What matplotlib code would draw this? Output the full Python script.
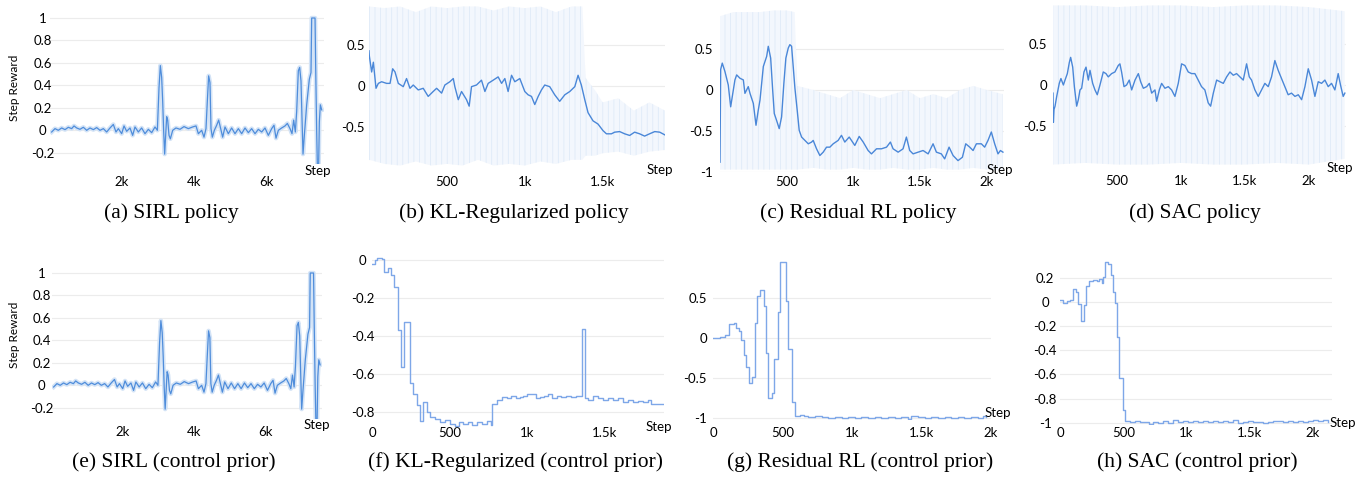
import matplotlib
matplotlib.use('Agg')
import matplotlib.pyplot as plt

plt.rcParams['font.family'] = ['Lato', 'DejaVu Sans']
plt.rcParams['axes.unicode_minus'] = False
plt.rcParams['hatch.linewidth'] = 0.6

# ---------------- data ----------------

# (a) / (e) SIRL step reward, same curve in both rows
sirl_x = [46, 139, 231, 324, 417, 509, 602, 667, 741, 833,
          926, 1019, 1111, 1204, 1296, 1389, 1482, 1574, 1667, 1759,
          1833, 1898, 1991, 2056, 2130, 2222, 2296, 2361, 2454, 2546,
          2639, 2732, 2824, 2917, 2982, 3028, 3065, 3102, 3130, 3158,
          3185, 3213, 3241, 3269, 3306, 3343, 3408, 3500, 3611, 3722,
          3843, 3963, 4056, 4121, 4213, 4278, 4333, 4370, 4407, 4444,
          4472, 4509, 4565, 4630, 4685, 4741, 4796, 4861, 4954, 5046,
          5139, 5232, 5324, 5417, 5510, 5602, 5695, 5787, 5880, 5972,
          6065, 6158, 6222, 6278, 6343, 6435, 6528, 6593, 6667, 6722,
          6769, 6815, 6852, 6898, 6935, 6972, 7000, 7028, 7065, 7130,
          7204, 7250, 7269, 7362, 7380, 7408, 7426, 7463, 7482, 7510,
          7547]
sirl_y = [-0.015, 0.015, 0, 0.021, 0.006, 0.027, 0.015, 0.039, 0.021, 0.009,
          0.027, 0, 0.021, 0.006, 0.024, 0, 0.015, -0.015, 0.021, 0.052,
          -0.015, 0.015, -0.03, 0.039, -0.009, 0.021, -0.045, 0.03, -0.015, 0.021,
          -0.03, 0.009, -0.021, 0.03, 0, 0.379, 0.576, 0.47, 0.258, -0.015,
          -0.212, -0.045, 0.121, 0.091, -0.045, -0.076, 0, 0.021, 0.009, 0.033,
          0.015, 0.03, 0.039, -0.03, 0, -0.061, 0.015, 0.258, 0.485, 0.424,
          0.015, -0.061, 0, 0.045, 0.091, 0.015, -0.061, 0.03, -0.03, 0.021,
          -0.03, 0.015, -0.03, 0.021, -0.021, 0.015, -0.03, 0.009, -0.015, 0.021,
          -0.045, 0.015, 0.045, -0.07, 0, 0.021, 0.039, 0.061, 0.015, -0.03,
          0.091, -0.015, 0.167, 0.53, 0.56, 0.44, 0.106, -0.212, -0.045, 0.227,
          0.455, 0.515, 1.0, 1.0, 0.56, -0.015, -0.303, -0.303, 0.076, 0.227,
          0.182]

# (b) KL-Regularized policy (smoothed)
kl_x = [0, 2, 17, 28, 45, 60, 81, 113, 135, 152,
        167, 188, 220, 241, 263, 284, 316, 348, 380, 412,
        434, 466, 487, 519, 541, 551, 573, 594, 626, 643,
        658, 690, 722, 744, 765, 797, 829, 851, 872, 893,
        915, 936, 968, 1000, 1021, 1043, 1064, 1086, 1107, 1128,
        1160, 1192, 1224, 1257, 1289, 1321, 1342, 1363, 1385, 1406,
        1438, 1470, 1502, 1524, 1556, 1577, 1609, 1641, 1673, 1705,
        1737, 1769, 1801, 1834, 1866, 1898]
kl_y = [0.429, 0.369, 0.171, 0.29, -0.028, 0.032, 0.052, 0.032, 0.032, 0.21,
        0.171, 0.032, -0.008, 0.091, -0.028, 0.012, -0.048, -0.028, -0.127, -0.067,
        -0.028, -0.087, 0.012, 0.052, 0.091, -0.008, -0.167, -0.067, -0.167, -0.246,
        -0.008, 0.012, 0.071, -0.067, 0.032, 0.071, 0.111, 0.032, 0.091, -0.067,
        0.131, 0.052, 0.091, -0.067, -0.107, -0.127, -0.226, -0.127, -0.048, 0.012,
        -0.008, -0.107, -0.187, -0.107, -0.067, -0.008, 0.131, 0.012, -0.167, -0.325,
        -0.425, -0.464, -0.544, -0.583, -0.583, -0.563, -0.556, -0.583, -0.603, -0.563,
        -0.583, -0.611, -0.583, -0.556, -0.563, -0.595]
# raw reward envelope (light band)
kl_band_x = [0, 100, 200, 300, 400, 500, 600, 700, 800, 900, 1000,
             1100, 1200, 1300, 1370, 1390, 1450, 1500, 1600, 1700, 1800, 1900]
kl_band_hi = [0.97, 0.95, 0.97, 0.9, 0.97, 0.95, 0.97, 0.97, 0.92, 0.97, 0.95,
              0.97, 0.9, 0.97, 0.97, 0.1, -0.05, -0.2, -0.15, -0.3, -0.2, -0.3]
kl_band_lo = [-0.9, -0.95, -0.97, -0.92, -0.97, -0.95, -0.97, -0.9, -0.97, -0.95, -0.97,
              -0.92, -0.95, -0.9, -0.9, -0.85, -0.85, -0.82, -0.8, -0.85, -0.8, -0.78]

# (c) Residual RL policy
res_x = [0, 5, 17, 37, 62, 80, 100, 112, 125, 150,
         175, 187, 212, 225, 250, 270, 287, 300, 325, 350,
         362, 380, 395, 407, 424, 444, 462, 479, 494, 512,
         524, 537, 549, 562, 579, 594, 612, 637, 662, 687,
         699, 724, 749, 774, 799, 824, 849, 886, 911, 936,
         969, 986, 1011, 1044, 1074, 1111, 1136, 1174, 1211, 1249,
         1278, 1298, 1336, 1373, 1398, 1423, 1448, 1486, 1523, 1561,
         1598, 1623, 1660, 1685, 1718, 1748, 1785, 1818, 1843, 1873,
         1898, 1923, 1960, 1985, 2010, 2035, 2060, 2085, 2103, 2122]
res_y = [-0.88, 0.25, 0.328, 0.225, 0.061, -0.205, 0, 0.123, 0.184, 0.143,
         0.123, -0.041, 0.041, -0.041, -0.164, -0.43, -0.246, -0.123, 0.287, 0.41,
         0.533, 0.389, 0, -0.287, -0.369, -0.471, -0.328, 0.082, 0.389, 0.512,
         0.553, 0.533, 0.287, 0.02, -0.246, -0.492, -0.574, -0.615, -0.656, -0.635,
         -0.615, -0.717, -0.799, -0.758, -0.697, -0.697, -0.656, -0.615, -0.553, -0.635,
         -0.574, -0.615, -0.676, -0.566, -0.635, -0.738, -0.779, -0.717, -0.717, -0.697,
         -0.635, -0.717, -0.758, -0.717, -0.574, -0.738, -0.779, -0.758, -0.738, -0.779,
         -0.656, -0.758, -0.779, -0.84, -0.697, -0.799, -0.861, -0.82, -0.656, -0.697,
         -0.738, -0.656, -0.656, -0.697, -0.615, -0.512, -0.656, -0.779, -0.738, -0.758]
res_band_x = [0, 100, 200, 300, 400, 500, 560, 580, 700, 800, 900, 1000,
              1100, 1200, 1300, 1400, 1500, 1600, 1700, 1800, 1900, 2000, 2120]
res_band_hi = [0.9, 0.95, 0.95, 0.95, 0.97, 0.97, 0.95, 0.05, 0.0, -0.05, -0.1, 0.0,
               -0.05, -0.1, -0.05, 0.0, -0.1, -0.05, -0.1, 0.0, 0.05, 0.0, -0.05]
res_band_lo = [-0.97, -0.97, -0.97, -0.97, -0.97, -0.97, -0.97, -0.97, -0.95, -0.97, -0.97, -0.95,
               -0.97, -0.97, -0.95, -0.97, -0.97, -0.95, -0.97, -0.97, -0.95, -0.97, -0.97]

# (d) SAC policy
sac_x = [0, 3, 8, 16, 29, 49, 62, 81, 94, 112,
         128, 138, 154, 167, 185, 198, 211, 224, 242, 258,
         276, 289, 310, 328, 346, 367, 393, 414, 432, 458,
         484, 510, 523, 536, 555, 575, 596, 615, 641, 667,
         685, 706, 732, 753, 771, 797, 810, 831, 849, 875,
         901, 927, 953, 979, 1005, 1031, 1057, 1083, 1109, 1135,
         1161, 1187, 1213, 1232, 1253, 1279, 1305, 1331, 1357, 1383,
         1409, 1435, 1461, 1487, 1513, 1534, 1552, 1578, 1604, 1630,
         1656, 1682, 1708, 1734, 1760, 1786, 1812, 1838, 1864, 1891,
         1917, 1943, 1969, 1995, 2021, 2047, 2073, 2099, 2125, 2151,
         2177, 2203, 2229, 2247, 2268, 2281]
sac_y = [-0.099, -0.456, -0.298, -0.258, -0.139, 0.02, 0.079, 0, 0.06, 0.139,
         0.278, 0.337, 0.218, -0.02, -0.258, -0.179, -0.06, -0.04, 0.159, 0.218,
         0.06, 0.179, 0.02, -0.06, -0.119, 0, 0.159, 0.139, 0.099, 0.139,
         0.159, 0.238, 0.258, 0.159, -0.02, 0, 0.06, -0.06, 0.06, 0.139,
         0.04, -0.04, -0.02, 0.02, -0.099, -0.06, -0.198, -0.06, 0.02, -0.04,
         -0.02, -0.06, -0.139, 0.02, 0.258, 0.238, 0.159, 0.139, 0.139, 0.06,
         -0.02, -0.06, -0.218, -0.258, -0.099, 0.06, 0.04, 0.02, 0.099, 0.159,
         0.119, 0.139, 0.099, 0.06, 0.258, 0.099, 0.06, -0.06, -0.139, -0.06,
         0.02, -0.02, 0.099, 0.298, 0.179, 0.079, -0.02, -0.119, -0.099, -0.139,
         -0.119, -0.179, -0.02, 0.198, 0.06, -0.139, 0.04, 0.02, 0.06, -0.02,
         0.02, -0.06, 0.139, 0, -0.139, -0.099]
sac_band_x = [0, 250, 500, 750, 1000, 1250, 1500, 1750, 2000, 2280]
sac_band_hi = [0.97, 0.97, 0.95, 0.97, 0.97, 0.95, 0.97, 0.97, 0.95, 0.9]
sac_band_lo = [-0.97, -0.95, -0.97, -0.97, -0.95, -0.97, -0.97, -0.95, -0.97, -0.9]

# (f) KL-Regularized control prior
klp_x = [0, 19, 34, 62, 79, 105, 120, 144, 165, 184,
         208, 244, 266, 287, 309, 330, 352, 373, 405, 437,
         470, 502, 534, 562, 587, 620, 647, 673, 705, 738,
         763, 770, 802, 834, 866, 898, 926, 952, 973, 999,
         1027, 1059, 1081, 1106, 1134, 1156, 1188, 1220, 1252, 1284,
         1316, 1342, 1351, 1370, 1391, 1424, 1456, 1488, 1520, 1552,
         1584, 1617, 1649, 1681, 1713, 1745, 1777, 1799, 1831, 1874]
klp_y = [-0.021, 0, 0.009, 0.004, -0.062, -0.044, -0.079, -0.144, -0.369, -0.566,
         -0.325, -0.647, -0.703, -0.765, -0.847, -0.747, -0.8, -0.826, -0.835, -0.852,
         -0.844, -0.865, -0.875, -0.852, -0.865, -0.852, -0.87, -0.852, -0.861, -0.847,
         -0.87, -0.756, -0.735, -0.721, -0.724, -0.717, -0.729, -0.721, -0.714, -0.703,
         -0.708, -0.729, -0.721, -0.717, -0.707, -0.724, -0.717, -0.721, -0.717, -0.721,
         -0.717, -0.715, -0.366, -0.729, -0.735, -0.717, -0.724, -0.738, -0.726, -0.738,
         -0.729, -0.747, -0.735, -0.749, -0.742, -0.747, -0.738, -0.756, -0.756, -0.759]

# (g) Residual RL control prior
resp_x = [0, 53, 88, 112, 148, 165, 184, 203, 220, 237,
          256, 280, 299, 318, 339, 366, 382, 399, 423, 442,
          466, 483, 523, 543, 566, 590, 626, 657, 686, 734,
          782, 829, 877, 925, 973, 1021, 1068, 1116, 1164, 1212,
          1260, 1307, 1355, 1403, 1427, 1475, 1522, 1570, 1618, 1666,
          1714, 1762, 1809, 1857, 1905, 1941, 1965]
resp_y = [0, 0.013, 0.029, 0.179, 0.188, 0.125, 0.083, -0.029, -0.221, -0.363,
          -0.571, -0.488, 0.188, 0.521, 0.604, 0.404, -0.188, -0.75, -0.688, -0.271,
          0.321, 0.946, 0.458, -0.146, -0.804, -0.979, -0.967, -0.979, -0.988, -0.979,
          -0.988, -1.0, -0.988, -1.0, -0.988, -1.0, -0.988, -1.0, -0.988, -1.0,
          -0.992, -1.0, -0.988, -1.021, -0.979, -0.988, -1.0, -0.988, -1.0, -0.992,
          -1.0, -0.988, -1.0, -0.992, -1.0, -0.979, -0.992]

# (h) SAC control prior
sacp_x = [0, 21, 53, 79, 105, 126, 145, 166, 190, 205,
          232, 258, 290, 311, 329, 342, 355, 382, 400, 416,
          437, 453, 468, 495, 513, 553, 592, 632, 671, 705,
          737, 776, 816, 855, 895, 934, 974, 1013, 1053, 1092,
          1132, 1171, 1211, 1250, 1290, 1329, 1369, 1408, 1448, 1487,
          1527, 1566, 1606, 1645, 1684, 1724, 1763, 1803, 1842, 1882,
          1921, 1961, 2000, 2040, 2079, 2119]
sacp_y = [0.014, -0.008, 0.008, 0.014, 0.11, 0.082, -0.019, -0.157, -0.027, 0.137,
          0.173, 0.184, 0.173, 0.192, 0.157, 0.206, 0.33, 0.316, 0.228, 0.082,
          -0.008, -0.288, -0.632, -0.893, -0.989, -0.997, -0.989, -0.997, -0.992, -1.008,
          -0.995, -1.003, -0.989, -1.003, -0.975, -0.997, -0.989, -0.997, -0.984, -0.995,
          -0.986, -0.995, -0.984, -0.995, -0.986, -0.997, -0.981, -1.003, -0.995, -0.986,
          -0.997, -0.992, -1.0, -0.992, -0.986, -0.989, -0.997, -0.986, -0.995, -0.984,
          -0.997, -0.986, -0.981, -0.989, -0.981, -0.997]

# tick labels
sirl_xticks, sirl_xlabels = [2000, 4000, 6000], ['2k', '4k', '6k']
sirl_yticks = [-0.2, 0, 0.2, 0.4, 0.6, 0.8, 1]
sirl_ylabels = ['-0.2', '0', '0.2', '0.4', '0.6', '0.8', '1']
half_yticks, half_ylabels = [-0.5, 0, 0.5], ['-0.5', '0', '0.5']
one_yticks, one_ylabels = [-1, -0.5, 0, 0.5], ['-1', '-0.5', '0', '0.5']
kl_xticks, kl_xlabels = [500, 1000, 1500], ['500', '1k', '1.5k']
two_xticks, two_xlabels = [500, 1000, 1500, 2000], ['500', '1k', '1.5k', '2k']
klp_xticks, klp_xlabels = [0, 500, 1000, 1500], ['0', '500', '1k', '1.5k']
zero_xticks, zero_xlabels = [0, 500, 1000, 1500, 2000], ['0', '500', '1k', '1.5k', '2k']
klp_yticks = [-0.8, -0.6, -0.4, -0.2, 0]
klp_ylabels = ['-0.8', '-0.6', '-0.4', '-0.2', '0']
sacp_yticks = [-1, -0.8, -0.6, -0.4, -0.2, 0, 0.2]
sacp_ylabels = ['-1', '-0.8', '-0.6', '-0.4', '-0.2', '0', '0.2']

captions = ['(a) SIRL policy', '(b) KL-Regularized policy', '(c) Residual RL policy',
            '(d) SAC policy', '(e) SIRL (control prior)', '(f) KL-Regularized (control prior)',
            '(g) Residual RL (control prior)', '(h) SAC (control prior)']

# ---------------- figure ----------------
W, H = 1371, 479
fig = plt.figure(figsize=(W / 100, H / 100), dpi=100)

LINE = '#4a87d8'
LIGHT = '#7ea7e8'
BAND = '#f3f7fd'
STRIPE = '#dfeaf8'
GRID = '#ececec'
TICK_FS = 9.5


def make_ax(box, xlim, ylim, xt, xtl, yt, ytl, xpad, ypad, yha):
    l, t, r, b = box
    ax = fig.add_axes([l / W, 1 - b / H, (r - l) / W, (b - t) / H])
    ax.set_xlim(*xlim)
    ax.set_ylim(*ylim)
    for s in ax.spines.values():
        s.set_visible(False)
    ax.set_xticks(xt)
    ax.set_xticklabels(xtl, fontsize=TICK_FS)
    ax.set_yticks(yt)
    ax.set_yticklabels(ytl, fontsize=TICK_FS, ha=yha)
    ax.tick_params(axis='x', length=0, pad=xpad)
    ax.tick_params(axis='y', length=0, pad=ypad)
    for v in yt:
        ax.axhline(v, color=GRID, lw=0.8, zorder=0)
    return ax


def band(ax, x, lo, hi):
    ax.fill_between(x, lo, hi, facecolor=BAND, edgecolor=STRIPE, hatch='|||', lw=0, zorder=1)


def fig_text(x, y, s, **kw):
    fig.text(x / W, 1 - y / H, s, **kw)


# (a)
ax = make_ax((50, 12.4, 323.6, 164), (0, 7600), (-0.3, 1.05), sirl_xticks, sirl_xlabels,
             sirl_yticks, sirl_ylabels, 9, 5.3, 'center')
ax.plot(sirl_x, sirl_y, color='#d3e3f6', lw=3.2, solid_joinstyle='round')
ax.plot(sirl_x, sirl_y, color='#4f8ddb', lw=0.9)

# (b)
ax = make_ax((369, 4, 665, 168), (0, 1900), (-1, 1), kl_xticks, kl_xlabels,
             half_yticks, half_ylabels, 5.4, 3, 'right')
band(ax, kl_band_x, kl_band_lo, kl_band_hi)
ax.plot(kl_x, kl_y, color=LINE, lw=1.0, zorder=3)

# (c)
ax = make_ax((720, 8, 1004, 172), (0, 2130), (-1, 1), two_xticks, two_xlabels,
             one_yticks, one_ylabels, 3.2, 5, 'right')
band(ax, res_band_x, res_band_lo, res_band_hi)
ax.plot(res_x, res_y, color=LINE, lw=1.0, zorder=3)

# (d)
ax = make_ax((1053, 3, 1346, 167), (0, 2290), (-1, 1), two_xticks, two_xlabels,
             half_yticks, half_ylabels, 6.1, 4.3, 'right')
band(ax, sac_band_x, sac_band_lo, sac_band_hi)
ax.plot(sac_x, sac_y, color=LINE, lw=1.0, zorder=3)

# (e)
ax = make_ax((52, 267.4, 322, 419), (0, 7600), (-0.3, 1.05), sirl_xticks, sirl_xlabels,
             sirl_yticks, sirl_ylabels, 5.4, 7.4, 'center')
ax.plot(sirl_x, sirl_y, color='#d3e3f6', lw=3.2, solid_joinstyle='round')
ax.plot(sirl_x, sirl_y, color='#4f8ddb', lw=0.9)

# (f)
ax = make_ax((372, 256, 664, 431), (0, 1880), (-0.9, 0.02), klp_xticks, klp_xlabels,
             klp_yticks, klp_ylabels, -3.2, 6.7, 'center')
ax.step(klp_x, klp_y, where='post', color=LIGHT, lw=1.0)

# (g)
ax = make_ax((713, 258, 991, 420), (0, 2000), (-1.03, 1.0), zero_xticks, zero_xlabels,
             one_yticks, one_ylabels, 4.7, 4.3, 'right')
ax.step(resp_x, resp_y, where='post', color=LIGHT, lw=1.0)

# (h)
ax = make_ax((1060, 260, 1332, 425), (0, 2150), (-1.02, 0.35), zero_xticks, zero_xlabels,
             sacp_yticks, sacp_ylabels, 1.1, 10.8, 'center')
ax.step(sacp_x, sacp_y, where='post', color=LIGHT, lw=1.0)

# "Step" axis labels
for sx, sy in [(318, 171), (660, 170), (1000, 170), (1340, 168),
               (317, 425), (659, 427), (998, 413), (1343, 423)]:
    fig_text(sx, sy, 'Step', ha='center', va='center', fontsize=9.5)

# y labels
fig_text(15, 88, 'Step Reward', rotation=90, ha='center', va='center', fontsize=8.5)
fig_text(14, 335, 'Step Reward', rotation=90, ha='center', va='center', fontsize=8.5)

# captions
cap_pos = [(171, 213), (514, 213), (858, 213), (1195, 213),
           (174, 462), (516, 462), (860, 462), (1197, 462)]
for (cx, cy), txt in zip(cap_pos, captions):
    fig_text(cx, cy, txt, ha='center', va='center', fontsize=15.5,
             family=['Liberation Serif', 'DejaVu Serif'])

fig.savefig('out.png', dpi=100)
